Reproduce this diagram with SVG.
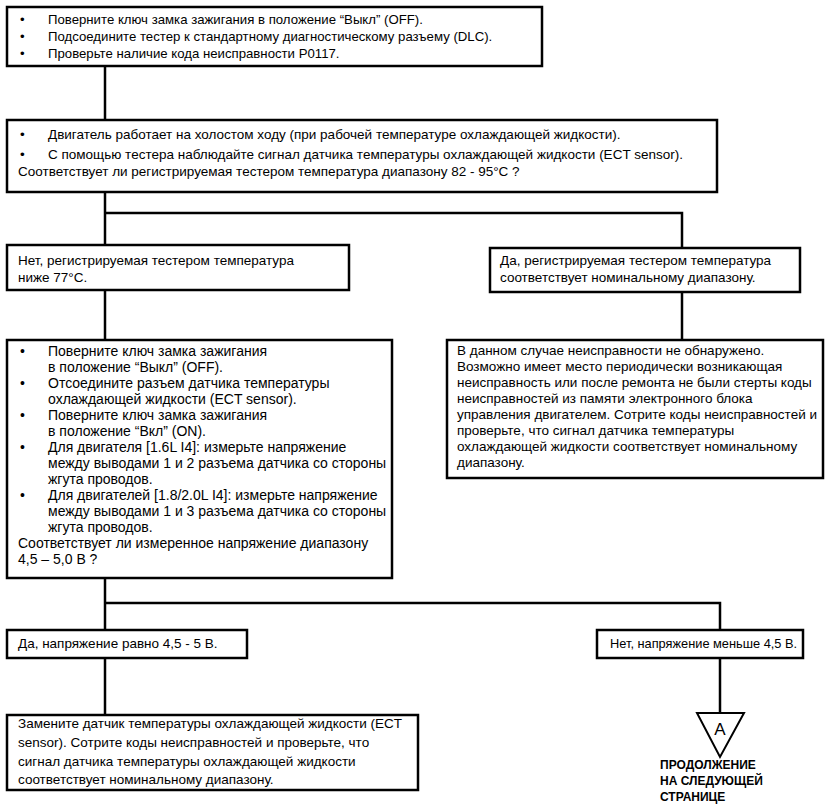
<svg xmlns="http://www.w3.org/2000/svg" width="839" height="805" viewBox="0 0 839 805">
<style>
rect.box{fill:#fff;stroke:#000;stroke-width:2.5}
text{font-family:"Liberation Sans",Arial,sans-serif;font-size:13.5px;fill:#000}
.s1{font-size:13.2px}
.s5{font-size:14px}
.s8{font-size:12.8px}
.big{font-size:13.5px}
.bold{font-weight:bold;font-size:12px}
.con{stroke:#000;stroke-width:2.5;fill:none}
</style>
<rect width="839" height="805" fill="#fff"/>
<g id="connectors">
<polyline class="con" points="105,66 105,120"/>
<polyline class="con" points="105,192 105,245"/>
<polyline class="con" points="105,213 682,213 682,248"/>
<polyline class="con" points="105,290 105,340"/>
<polyline class="con" points="682,292 682,340"/>
<polyline class="con" points="105,578 105,630"/>
<polyline class="con" points="105,603 720,603 720,630"/>
<polyline class="con" points="105,658 105,715"/>
<polyline class="con" points="720,658 720,713"/>
</g>
<g id="n1">
<rect class="box" x="7" y="7" width="535" height="59"/>
<text class="s1" x="20" y="24">•</text><text class="s1" x="48" y="24">Поверните ключ замка зажигания в положение “Выкл” (OFF).</text>
<text class="s1" x="20" y="41">•</text><text class="s1" x="48" y="41">Подсоедините тестер к стандартному диагностическому разъему (DLC).</text>
<text class="s1" x="20" y="58">•</text><text class="s1" x="48" y="58">Проверьте наличие кода неисправности P0117.</text>
</g>
<g id="n2">
<rect class="box" x="7" y="120" width="710" height="72"/>
<text x="20" y="139">•</text><text x="48" y="139">Двигатель работает на холостом ходу (при рабочей температуре охлаждающей жидкости).</text>
<text x="20" y="159">•</text><text x="48" y="159">С помощью тестера наблюдайте сигнал датчика температуры охлаждающей жидкости (ECT sensor).</text>
<text x="18" y="176">Соответствует ли регистрируемая тестером температура диапазону 82 - 95°C ?</text>
</g>
<g id="n3">
<rect class="box" x="7" y="245" width="342" height="45"/>
<text x="18" y="265">Нет, регистрируемая тестером температура</text>
<text x="18" y="282">ниже 77°C.</text>
</g>
<g id="n4">
<rect class="box" x="490" y="248" width="310" height="44"/>
<text x="500" y="265">Да, регистрируемая тестером температура</text>
<text x="500" y="282">соответствует номинальному диапазону.</text>
</g>
<g id="n5">
<rect class="box" x="7" y="340" width="385" height="238"/>
<text class="s5" x="20" y="356">•</text><text class="s5" x="48" y="356">Поверните ключ замка зажигания</text>
<text class="s5" x="48" y="372">в положение “Выкл” (OFF).</text>
<text class="s5" x="20" y="388">•</text><text class="s5" x="48" y="388">Отсоедините разъем датчика температуры</text>
<text class="s5" x="48" y="404">охлаждающей жидкости (ECT sensor).</text>
<text class="s5" x="20" y="420">•</text><text class="s5" x="48" y="420">Поверните ключ замка зажигания</text>
<text class="s5" x="48" y="436">в положение “Вкл” (ON).</text>
<text class="s5" x="20" y="452">•</text><text class="s5" x="48" y="452">Для двигателя [1.6L I4]: измерьте напряжение</text>
<text class="s5" x="48" y="468">между выводами 1 и 2 разъема датчика со стороны</text>
<text class="s5" x="48" y="484">жгута проводов.</text>
<text class="s5" x="20" y="500">•</text><text class="s5" x="48" y="500">Для двигателей [1.8/2.0L I4]: измерьте напряжение</text>
<text class="s5" x="48" y="516">между выводами 1 и 3 разъема датчика со стороны</text>
<text class="s5" x="48" y="532">жгута проводов.</text>
<text class="s5" x="18" y="548">Соответствует ли измеренное напряжение диапазону</text>
<text class="s5" x="18" y="564">4,5 – 5,0 В ?</text>
</g>
<g id="n6">
<rect class="box" x="447" y="340" width="376" height="138"/>
<text x="457" y="355">В данном случае неисправности не обнаружено.</text>
<text x="457" y="371">Возможно имеет место периодически возникающая</text>
<text x="457" y="387">неисправность или после ремонта не были стерты коды</text>
<text x="457" y="403">неисправностей из памяти электронного блока</text>
<text x="457" y="419">управления двигателем. Сотрите коды неисправностей и</text>
<text x="457" y="435">проверьте, что сигнал датчика температуры</text>
<text x="457" y="451">охлаждающей жидкости соответствует номинальному</text>
<text x="457" y="467">диапазону.</text>
</g>
<g id="n7">
<rect class="box" x="7" y="630" width="240" height="28"/>
<text x="18" y="648">Да, напряжение равно 4,5 - 5 В.</text>
</g>
<g id="n8">
<rect class="box" x="597" y="630" width="206" height="28"/>
<text class="s8" x="610" y="648">Нет, напряжение меньше 4,5 В.</text>
</g>
<g id="n9">
<rect class="box" x="7" y="715" width="411" height="75"/>
<text class="big" x="18" y="728">Замените датчик температуры охлаждающей жидкости (ECT</text>
<text class="big" x="18" y="747">sensor). Сотрите коды неисправностей и проверьте, что</text>
<text class="big" x="18" y="766">сигнал датчика температуры охлаждающей жидкости</text>
<text class="big" x="18" y="784">соответствует номинальному диапазону.</text>
</g>
<g id="offpage">
<polygon points="697,713 744,713 720,757" fill="#fff" stroke="#000" stroke-width="2"/>
<text x="720" y="735" text-anchor="middle" style="font-size:17px">A</text>
<text class="bold" x="660" y="769">ПРОДОЛЖЕНИЕ</text>
<text class="bold" x="660" y="785">НА СЛЕДУЮЩЕЙ</text>
<text class="bold" x="660" y="801">СТРАНИЦЕ</text>
</g>
</svg>
